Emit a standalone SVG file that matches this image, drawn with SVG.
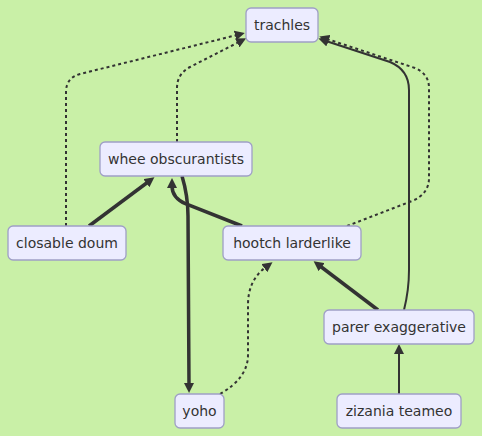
<svg xmlns="http://www.w3.org/2000/svg" width="482" height="436" viewBox="0 0 482 436">
<style>
.bg{fill:#c9f0a7}
.node rect{fill:#ececff;stroke:#9f9fc6;stroke-width:1.3}
.node text{font-family:"DejaVu Sans",Verdana,sans-serif;font-size:14px;fill:#333;text-anchor:middle}
.e{fill:none;stroke:#333;stroke-width:2}
.thick{stroke-width:3.5}
.dot{stroke-dasharray:3 3}
</style>
<defs>
<marker id="ah" viewBox="0 0 10 10" refX="2" refY="5" markerUnits="userSpaceOnUse" markerWidth="10" markerHeight="10" orient="auto">
<path d="M0,0 L10,5 L0,10 z" fill="#333"/>
</marker>
</defs>
<rect class="bg" x="0" y="0" width="482" height="436"/>
<g id="connectors">
<path class="e dot" d="M66,226 L66,92 Q66,78 80,74 L237,35" marker-end="url(#ah)"/>
<path class="e dot" d="M177,142 L177,88 Q177,74 190,67 L239,42" marker-end="url(#ah)"/>
<path class="e dot" d="M347,226 L412,201 Q429,194 429,178 L429,88 Q429,74 415,68 L327,39" marker-end="url(#ah)"/>
<path class="e" d="M404,310 Q409,290 409,270 L409,90 Q409,70 390,62 L326,41" marker-end="url(#ah)"/>
<path class="e thick" d="M89,226 L148,182" marker-end="url(#ah)"/>
<path class="e thick" d="M242,226 L186,204 Q172,198 172,186" marker-end="url(#ah)"/>
<path class="e thick" d="M182,176 Q188,196 188,216 L189,385" marker-end="url(#ah)"/>
<path class="e dot" d="M220,394 Q248,378 248,355 L248,305 Q248,280 266,267" marker-end="url(#ah)"/>
<path class="e thick" d="M378,310 L320,266" marker-end="url(#ah)"/>
<path class="e" d="M399,394 L399,352" marker-end="url(#ah)"/>
</g>
<g id="trachles" class="node"><rect x="246" y="8" width="72" height="34" rx="5"/><text x="282" y="30">trachles</text></g>
<g id="whee-obscurantists" class="node"><rect x="100" y="142" width="152" height="34" rx="5"/><text x="176" y="164">whee obscurantists</text></g>
<g id="closable-doum" class="node"><rect x="8" y="226" width="118" height="34" rx="5"/><text x="67" y="248">closable doum</text></g>
<g id="hootch-larderlike" class="node"><rect x="223" y="226" width="138" height="34" rx="5"/><text x="292" y="248">hootch larderlike</text></g>
<g id="parer-exaggerative" class="node"><rect x="324" y="310" width="150" height="34" rx="5"/><text x="399" y="332">parer exaggerative</text></g>
<g id="yoho" class="node"><rect x="175" y="394" width="49" height="34" rx="5"/><text x="199.5" y="416">yoho</text></g>
<g id="zizania-teameo" class="node"><rect x="337" y="394" width="124" height="34" rx="5"/><text x="399" y="416">zizania teameo</text></g>
</svg>
